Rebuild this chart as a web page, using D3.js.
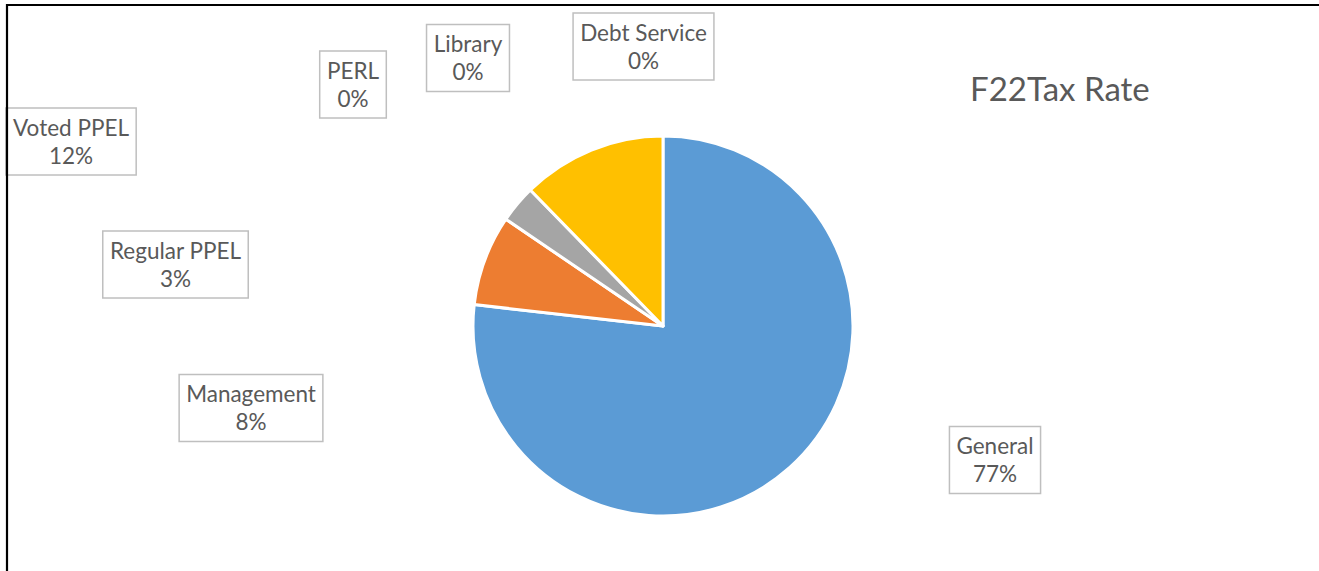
<!DOCTYPE html>
<html>
<head>
<meta charset="utf-8">
<script src="https://cdn.jsdelivr.net/npm/d3@7"></script>
<style>
  html, body { margin: 0; padding: 0; background: #fff; }
  svg { display: block; }
  text { font-family: Lato, "Open Sans", sans-serif; fill: #595959; }
</style>
</head>
<body>
<svg id="chart" width="1319" height="571"></svg>
<script>
// Tax rate components (share of the total levy, %)
const categories = ["General", "Management", "Regular PPEL", "Voted PPEL", "PERL", "Library", "Debt Service"];
const values     = [76.8, 7.7, 3.2, 12.3, 0, 0, 0];
const colors     = ["#5B9BD5", "#ED7D31", "#A5A5A5", "#FFC000", "#4472C4", "#70AD47", "#264478"];
const title = "F22Tax Rate";

// Where each data label box sits (centre of the box)
const labelCenters = {
  "General":      [995, 460],
  "Management":   [251, 408],
  "Regular PPEL": [175.5, 264.5],
  "Voted PPEL":   [71, 141.5],
  "PERL":         [353, 84.5],
  "Library":      [468, 58],
  "Debt Service": [643.5, 46.5]
};

const W = 1319, H = 571;
const cx = 663, cy = 326, R = 190;

const svg = d3.select("#chart");

const total = d3.sum(values);
const data = categories.map((c, i) => ({ name: c, value: values[i], color: colors[i] }));

const pie = d3.pie().value(d => d.value).sort(null).startAngle(0).endAngle(2 * Math.PI);
const arc = d3.arc().innerRadius(0).outerRadius(R);

const g = svg.append("g").attr("transform", `translate(${cx},${cy})`);
g.selectAll("path.slice")
  .data(pie(data).filter(d => d.data.value > 0))
  .join("path")
  .attr("class", "slice")
  .attr("d", arc)
  .attr("fill", d => d.data.color)
  .attr("stroke", "#fff")
  .attr("stroke-width", 3)
  .attr("stroke-linejoin", "round");

// data labels: category name and percentage inside a light box
const fmt = d3.format(".0%");
const labels = svg.append("g");
data.forEach(d => {
  const [lx, ly] = labelCenters[d.name];
  const lg = labels.append("g").attr("transform", `translate(${lx},${ly})`);
  const box = lg.append("rect");
  const t = lg.append("text")
    .attr("text-anchor", "middle")
    .style("font-size", "22.5px");
  t.append("tspan").attr("x", 0).attr("y", -6).text(d.name);
  t.append("tspan").attr("x", 0).attr("y", 22).text(fmt(d.value / total));
  const bw = t.node().getBBox().width + 14;
  const bh = 67;
  box.attr("x", -bw / 2).attr("y", -bh / 2)
    .attr("width", bw).attr("height", bh)
    .attr("fill", "#fff")
    .attr("stroke", "#BFBFBF")
    .attr("stroke-width", 1.5);
});

// chart area frame (left and top edges)
svg.append("path")
  .attr("d", `M7,${H} L7,5 L${W},5`)
  .attr("fill", "none")
  .attr("stroke", "#000")
  .attr("stroke-width", 2.2);

// chart title
svg.append("text")
  .attr("x", 970)
  .attr("y", 101)
  .style("font-size", "33px")
  .text(title);
</script>
</body>
</html>
